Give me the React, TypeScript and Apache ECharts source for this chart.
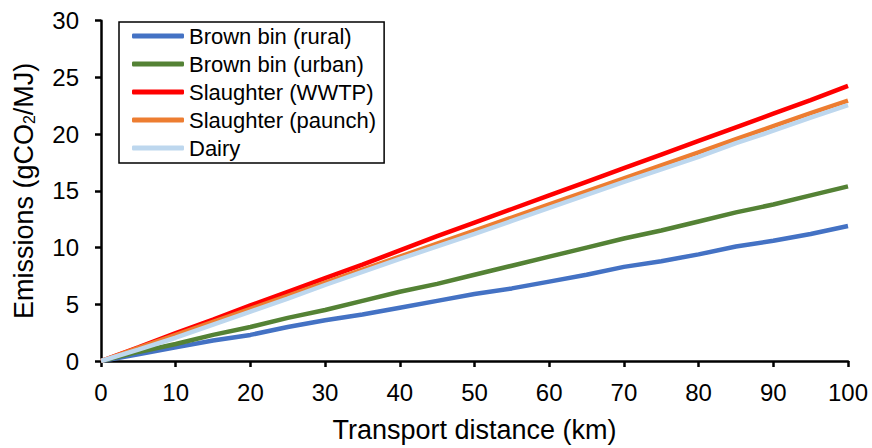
import React, { useEffect, useRef } from "react";
import * as echarts from "echarts";

const distances = [0, 5, 10, 15, 20, 25, 30, 35, 40, 45, 50, 55, 60, 65, 70, 75, 80, 85, 90, 95, 100];
const seriesNames = ["Brown bin (rural)", "Brown bin (urban)", "Slaughter (WWTP)", "Slaughter (paunch)", "Dairy"];
const brownRural = [0, 0.6, 1.2, 1.8, 2.3, 3.0, 3.6, 4.1, 4.7, 5.3, 5.9, 6.4, 7.0, 7.6, 8.3, 8.8, 9.4, 10.1, 10.6, 11.2, 11.9];
const brownUrban = [0, 0.8, 1.5, 2.3, 3.0, 3.8, 4.5, 5.3, 6.1, 6.8, 7.6, 8.4, 9.2, 10.0, 10.8, 11.5, 12.3, 13.1, 13.8, 14.6, 15.4];
const slaughterWWTP = [0, 1.2, 2.45, 3.65, 4.9, 6.1, 7.3, 8.5, 9.75, 11.0, 12.2, 13.4, 14.6, 15.8, 17.0, 18.2, 19.4, 20.6, 21.8, 23.0, 24.25];
const slaughterPaunch = [0, 1.15, 2.3, 3.45, 4.6, 5.75, 6.9, 8.05, 9.2, 10.35, 11.5, 12.65, 13.8, 14.95, 16.1, 17.25, 18.4, 19.55, 20.7, 21.85, 22.95];
const dairy = [0, 1.0, 2.05, 3.2, 4.35, 5.5, 6.7, 7.85, 9.0, 10.1, 11.2, 12.35, 13.5, 14.65, 15.8, 16.9, 18.0, 19.2, 20.3, 21.45, 22.55];
const colors = ["#4472C4", "#548235", "#FF0000", "#ED7D31", "#BDD7EE"];

export default function App() {
  const ref = useRef<HTMLDivElement>(null);
  useEffect(() => {
    if (!ref.current) return;
    const chart = echarts.init(ref.current, undefined, { renderer: "svg" });
    const all = [brownRural, brownUrban, slaughterWWTP, slaughterPaunch, dairy];
    const font = "Liberation Sans, Arial, sans-serif";
    chart.setOption({
      animation: false,
      textStyle: { fontFamily: font },
      grid: { left: 101, right: 24, top: 20.7, bottom: 82, containLabel: false },
      legend: {
        orient: "vertical",
        left: 119,
        top: 22,
        padding: [3, 8, 4, 13],
        itemGap: 6,
        itemWidth: 52,
        itemHeight: 5,
        itemStyle: { borderWidth: 0 },
        icon: "roundRect",
        borderColor: "#000",
        borderWidth: 1.5,
        borderRadius: 0,
        textStyle: { fontFamily: font, fontSize: 22, color: "#000" },
        data: seriesNames,
      },
      xAxis: {
        type: "value",
        min: 0,
        max: 100,
        interval: 10,
        name: "Transport distance (km)",
        nameLocation: "middle",
        nameGap: 55,
        nameTextStyle: { fontFamily: font, fontSize: 27, color: "#000" },
        axisLine: { show: true, lineStyle: { color: "#000", width: 2.5 } },
        axisTick: { show: true, length: 6, lineStyle: { color: "#000", width: 2.5 } },
        axisLabel: { fontFamily: font, fontSize: 24, color: "#000", margin: 19 },
        splitLine: { show: false },
      },
      yAxis: {
        type: "value",
        min: 0,
        max: 30,
        interval: 5,
        name: "{a|Emissions (gCO}{s|2}{a|/MJ)}",
        nameLocation: "middle",
        nameGap: 64,
        nameRotate: 90,
        nameTextStyle: {
          fontFamily: font,
          color: "#000",
          rich: {
            a: { fontFamily: font, fontSize: 27, color: "#000" },
            s: { fontFamily: font, fontSize: 16, color: "#000", verticalAlign: "bottom", padding: [10, 0, 0, 0] },
          },
        },
        axisLine: { show: true, lineStyle: { color: "#000", width: 2.5 } },
        axisTick: { show: true, length: 6, lineStyle: { color: "#000", width: 2.5 } },
        axisLabel: { fontFamily: font, fontSize: 24, color: "#000", margin: 22 },
        splitLine: { show: false },
      },
      series: all.map((vals, i) => ({
        name: seriesNames[i],
        type: "line",
        data: distances.map((d, j) => [d, vals[j]]),
        showSymbol: false,
        symbol: "none",
        color: colors[i],
        lineStyle: { width: 4.5, color: colors[i] },
      })),
    });
    return () => chart.dispose();
  }, []);
  return <div ref={ref} style={{ width: 872, height: 448, position: "absolute", left: 0, top: 0 }} />;
}
